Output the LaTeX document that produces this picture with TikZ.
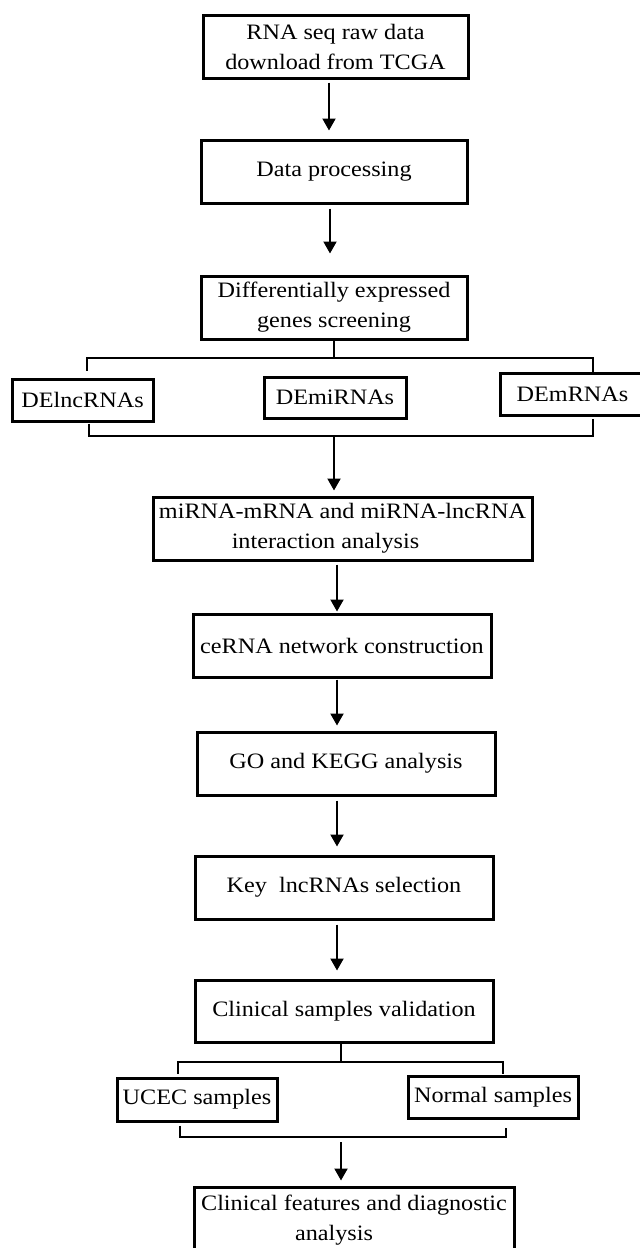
\documentclass[tikz,border=0pt]{standalone}
\usepackage{fontspec}
\setmainfont{Liberation Serif}[FakeStretch=1.1]
\usetikzlibrary{arrows.meta}
\tikzset{
	procbox/.style={draw, line width=3pt, align=center, inner sep=0pt},
	flow/.style={draw, line width=2pt, -{Triangle[length=12pt, width=13pt]}},
	bracket/.style={draw, line width=2.8pt}
}

\begin{document}
\begin{tikzpicture}[x=1pt, y=-1pt, font=\fontsize{22}{30}\selectfont]
\useasboundingbox (0,0) rectangle (640,1248);
% main steps
\node (raw) [procbox, minimum width=265, minimum height=63] at (335.5,46.5) {RNA seq raw data\\download from TCGA};
\node (proc) [procbox, minimum width=266, minimum height=63] at (334,171.5) {Data processing};
\node (diff) [procbox, minimum width=266, minimum height=63] at (334,307.5) {Differentially expressed\\genes screening};
\node (lnc) [procbox, minimum width=141, minimum height=42] at (82.5,400) {DElncRNAs};
\node (mir) [procbox, minimum width=142, minimum height=41] at (335,397.5) {DEmiRNAs};
\node (mrna) [procbox, minimum width=145, minimum height=42] at (572.5,394) {DEmRNAs};
\node (inter) [procbox, minimum width=379, minimum height=63] at (342.5,528.5) {miRNA-mRNA and miRNA-lncRNA\\interaction analysis\hspace*{34pt}};
\node (cerna) [procbox, minimum width=298, minimum height=63] at (342,645.5) {ceRNA network construction};
\node (gokegg) [procbox, minimum width=298, minimum height=63] at (346,763.5) {GO and KEGG analysis};
\node (keylnc) [procbox, minimum width=298, minimum height=63] at (344,887.5) {Key\ \ lncRNAs selection};
\node (clin) [procbox, minimum width=298, minimum height=62] at (344,1011) {Clinical samples validation};
\node (ucec) [procbox, minimum width=160, minimum height=43] at (197,1099.5) {UCEC samples};
\node (normal) [procbox, minimum width=170, minimum height=42] at (493,1097) {Normal samples};
\node (feat) [procbox, minimum width=320, minimum height=66] at (354,1220) {Clinical features and diagnostic\\analysis\hspace*{40pt}};
% bracket corners
\coordinate (deSplitL) at (87,358); \coordinate (deSplitR) at (593,358);
\coordinate (deJoinL) at (89,436); \coordinate (deJoinR) at (593,436);
\coordinate (deJoin) at (334,436);
\coordinate (clSplitL) at (178,1062); \coordinate (clSplitR) at (503,1062);
\coordinate (clJoinL) at (180,1137); \coordinate (clJoinR) at (506,1137);
\coordinate (clJoin) at (341,1137);
% arrows
\draw[flow, shorten <=3pt, shorten >=8pt] ([xshift=-6.5pt]raw.south) -- ([xshift=-5pt]proc.north);
\draw[flow, shorten <=4pt, shorten >=21pt] ([xshift=-4pt]proc.south) -- ([xshift=-4pt]diff.north);
\draw[bracket] (diff.south) -- (diff.south |- deSplitL);
\draw[bracket] ([yshift=7pt]lnc.north -| deSplitL) -- (deSplitL) -- (deSplitR) -- (mrna.north -| deSplitR);
\draw[bracket] ([yshift=-1pt]lnc.south -| deJoinL) -- (deJoinL) -- (deJoinR) -- ([yshift=-2pt]mrna.south -| deJoinR);
\draw[flow, shorten <=1pt, shorten >=5pt] (deJoin) -- (inter.north -| deJoin);
\draw[flow, shorten <=3pt, shorten >=1pt] ([xshift=-5.5pt]inter.south) -- ([xshift=-5pt]cerna.north);
\draw[flow, shorten <=1pt, shorten >=5pt] ([xshift=-5pt]cerna.south) -- ([xshift=-9pt]gokegg.north);
\draw[flow, shorten <=4pt, shorten >=8pt] ([xshift=-9pt]gokegg.south) -- ([xshift=-7pt]keylnc.north);
\draw[flow, shorten <=4pt, shorten >=8pt] ([xshift=-7pt]keylnc.south) -- ([xshift=-7pt]clin.north);
\draw[bracket] ([xshift=-3pt]clin.south) -- (clJoin |- clSplitL);
\draw[bracket] ([yshift=3pt]ucec.north -| clSplitL) -- (clSplitL) -- (clSplitR) -- ([yshift=1pt]normal.north -| clSplitR);
\draw[bracket] ([yshift=-3pt]ucec.south -| clJoinL) -- (clJoinL) -- (clJoinR) -- ([yshift=-8pt]normal.south -| clJoinR);
\draw[flow, shorten <=5pt, shorten >=5pt] (clJoin) -- (feat.north -| clJoin);
\end{tikzpicture}
\end{document}
